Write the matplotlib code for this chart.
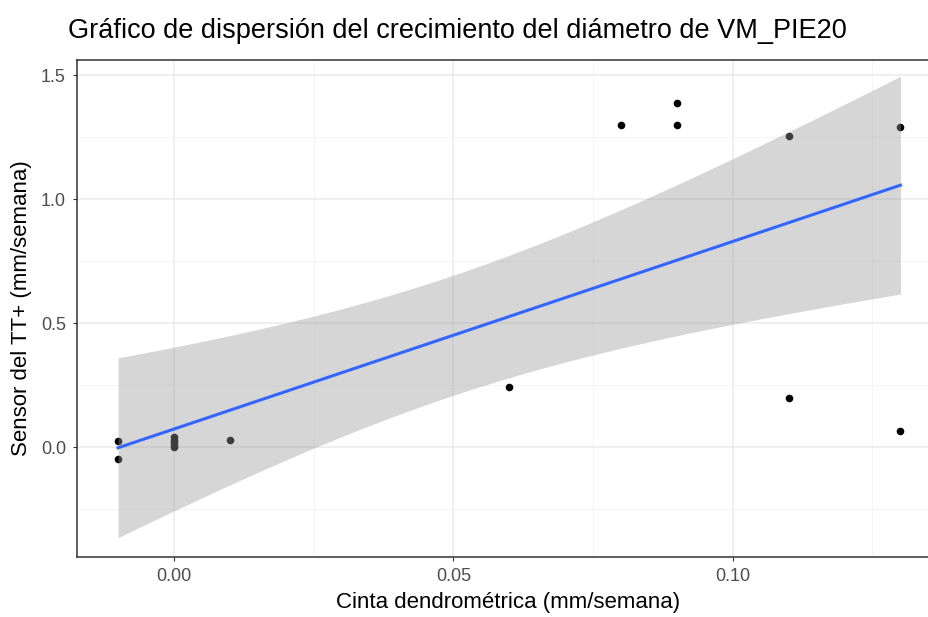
import numpy as np
import matplotlib.pyplot as plt

plt.rcParams['font.family'] = ['Liberation Sans', 'DejaVu Sans']

# Weekly diameter growth: dendrometer tape (x) vs TT+ sensor (y)
cinta = [-0.01, -0.01, 0.00, 0.00, 0.00, 0.00, 0.00, 0.01, 0.06,
         0.08, 0.09, 0.09, 0.11, 0.11, 0.13, 0.13]
sensor = [0.024, -0.048, 0.040, 0.030, 0.020, 0.010, 0.000, 0.028, 0.240,
          1.298, 1.388, 1.298, 1.254, 0.198, 1.290, 0.065]

x_ticks = [0.00, 0.05, 0.10]
y_ticks = [0.0, 0.5, 1.0, 1.5]

x = np.array(cinta)
y = np.array(sensor)

# linear model with 95% confidence band (like geom_smooth(method="lm"))
n = len(x)
slope, intercept = np.polyfit(x, y, 1)
resid = y - (intercept + slope * x)
s = np.sqrt(np.sum(resid ** 2) / (n - 2))
t_crit = 2.144787  # t(0.975, df=14)
xg = np.linspace(x.min(), x.max(), 80)
yg = intercept + slope * xg
se = s * np.sqrt(1.0 / n + (xg - x.mean()) ** 2 / np.sum((x - x.mean()) ** 2))
lo, hi = yg - t_crit * se, yg + t_crit * se

W, H = 929, 617
fig = plt.figure(figsize=(W / 100, H / 100), dpi=100)
ax = fig.add_axes([77 / W, 1 - 557 / H, (939 - 77) / W, (557 - 60) / H])

ax.scatter(x, y, s=30, color='black', zorder=2, linewidths=0)
ax.fill_between(xg, lo, hi, color='#999999', alpha=0.4, linewidth=0, zorder=3)
ax.plot(xg, yg, color='#3366FF', lw=2.2, zorder=4)

ax.set_xlim(-0.01735, 0.1369)
ax.set_ylim(-0.4435, 1.5605)
ax.set_xticks(x_ticks)
ax.set_xticklabels([f'{v:.2f}' for v in x_ticks])
ax.set_yticks(y_ticks)
ax.set_yticklabels([f'{v:.1f}' for v in y_ticks])
ax.set_xticks([0.025, 0.075, 0.125], minor=True)
ax.set_yticks([-0.25, 0.25, 0.75, 1.25], minor=True)
ax.grid(True, which='major', color='#EBEBEB', lw=1.1, zorder=0)
ax.grid(True, which='minor', color='#F3F3F3', lw=0.6, zorder=0)
ax.set_axisbelow(True)
ax.tick_params(which='major', length=3, width=0.8, color='#333333',
               labelcolor='#4D4D4D', labelsize=13, pad=5)
ax.tick_params(which='minor', length=0)
for sp in ax.spines.values():
    sp.set_color('#333333')
    sp.set_linewidth(1.1)

ax.set_xlabel('Cinta dendrométrica (mm/semana)', fontsize=16, labelpad=5)
ax.set_ylabel('Sensor del TT+ (mm/semana)', fontsize=16, labelpad=6)
fig.text(68 / W, 1 - 31 / H, 'Gráfico de dispersión del crecimiento del diámetro de VM_PIE20',
         fontsize=19.5, va='center', ha='left')

fig.savefig('out.png', dpi=100)
